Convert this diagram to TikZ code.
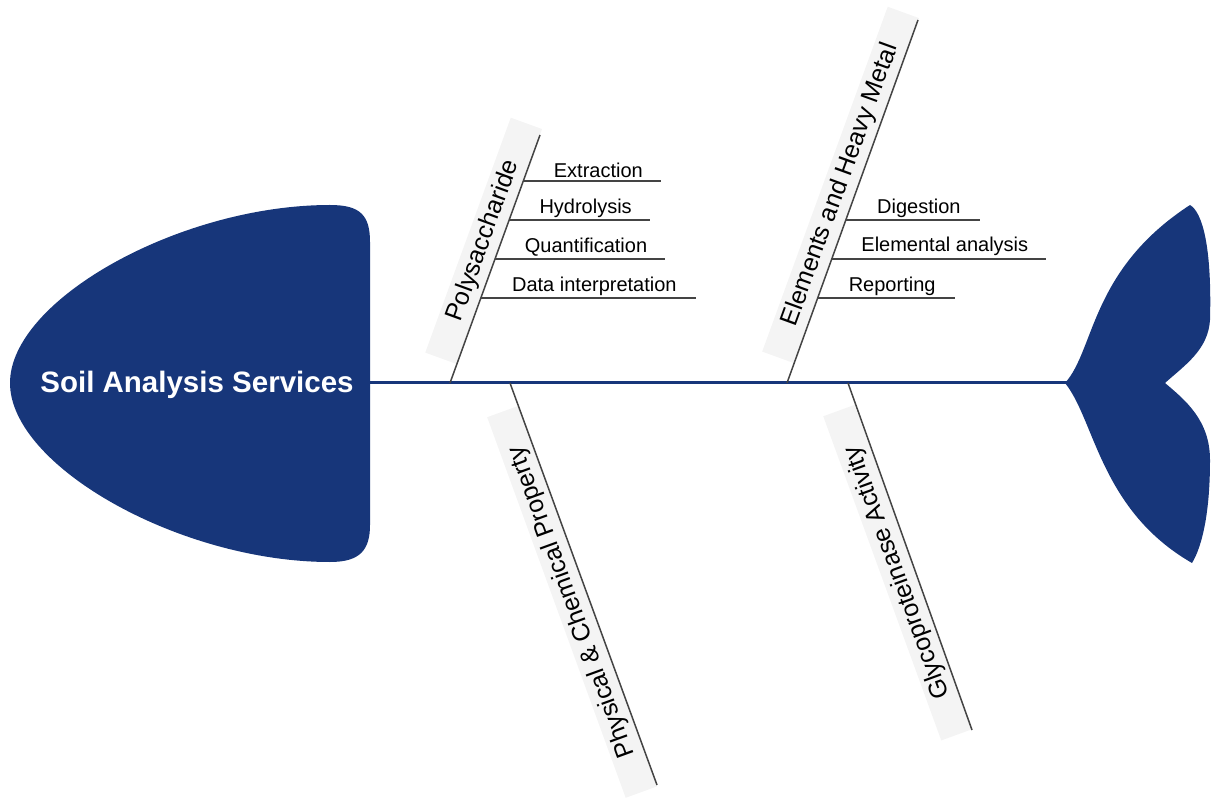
\documentclass[tikz,border=0pt]{standalone}
\usepackage{fontspec}
\setmainfont{Liberation Sans}
\usetikzlibrary{calc,positioning}
\definecolor{fishblue}{HTML}{17367A}
\definecolor{bonegray}{HTML}{444444}
\definecolor{boxgray}{HTML}{F4F4F4}
\tikzset{
  bone/.style={draw=bonegray, line width=1.5pt},
  bonelabel/.style={fill=boxgray, anchor=south, inner sep=5pt, font=\fontsize{25}{30}\selectfont},
  sublabel/.style={above, inner sep=2pt, xshift=6pt, font=\fontsize{20}{24}\selectfont}
}
\begin{document}
\begin{tikzpicture}[x=1pt,y=-1pt]
\useasboundingbox (0,0) rectangle (1221,799);

% Head and tail
\fill[fishblue] (330,205) .. controls (180,205) and (10,300) .. (10,383)
  .. controls (10,466) and (180,562) .. (330,562)
  .. controls (360,562) and (370,550) .. (370,525) -- (370,242)
  .. controls (370,215) and (360,205) .. (330,205) -- cycle;
\fill[fishblue] (1065,383) .. controls (1095,350) and (1090,270) .. (1190,205)
  .. controls (1202,212) and (1212,245) .. (1210,320)
  .. controls (1208,350) and (1185,365) .. (1165,383)
  .. controls (1185,400) and (1210,420) .. (1210,460)
  .. controls (1210,520) and (1200,550) .. (1192,563)
  .. controls (1100,510) and (1095,420) .. (1065,383) -- cycle;

% Spine
\node[font=\bfseries\fontsize{29.5}{34}\selectfont, text=white] (head) at (197,385) {Soil Analysis Services};
\coordinate (spineA) at (370,383);
\coordinate (spineB) at (1068,383);
\draw[fishblue, line width=3pt] (spineA) -- (spineB);

% Bones
\coordinate (ps0) at (450,383);  \coordinate (ps1) at (540,135);
\coordinate (eh0) at (787,383);  \coordinate (eh1) at (918,20);
\coordinate (pc0) at (510,383);  \coordinate (pc1) at (657,785);
\coordinate (gp0) at (848,383);  \coordinate (gp1) at (972,730);

\node[bonelabel, rotate=70, minimum width=250pt] (psl) at ($(ps0)!0.55!(ps1)$) {Polysaccharide};
\node[bonelabel, rotate=70, minimum width=367pt] (ehl) at ($(eh0)!0.53!(eh1)$) {Elements and Heavy Metal};
\node[bonelabel, rotate=110, minimum width=405pt] (pcl) at ($(pc0)!0.53!(pc1)$) {Physical \& Chemical Property};
\node[bonelabel, rotate=110, minimum width=345pt] (gpl) at ($(gp0)!0.53!(gp1)$) {Glycoproteinase Activity};

\draw[bone] (ps0) -- (ps1);
\draw[bone] (eh0) -- (eh1);
\draw[bone] (pc0) -- (pc1);
\draw[bone] (gp0) -- (gp1);

% Sub-branches
\coordinate (ps-a) at ($(ps0)!0.815!(ps1)$);
\coordinate (ps-b) at ($(ps0)!0.657!(ps1)$);
\coordinate (ps-c) at ($(ps0)!0.5!(ps1)$);
\coordinate (ps-d) at ($(ps0)!0.343!(ps1)$);
\draw[bone] (ps-a) -- ++(138,0) node[sublabel, midway] {Extraction};
\draw[bone] (ps-b) -- ++(141,0) node[sublabel, midway] {Hydrolysis};
\draw[bone] (ps-c) -- ++(170,0) node[sublabel, midway] {Quantification};
\draw[bone] (ps-d) -- ++(215,0) node[sublabel, midway] {Data interpretation};

\coordinate (eh-a) at ($(eh0)!0.449!(eh1)$);
\coordinate (eh-b) at ($(eh0)!0.342!(eh1)$);
\coordinate (eh-c) at ($(eh0)!0.234!(eh1)$);
\draw[bone] (eh-a) -- ++(134,0) node[sublabel, midway] {Digestion};
\draw[bone] (eh-b) -- ++(214,0) node[sublabel, midway] {Elemental analysis};
\draw[bone] (eh-c) -- ++(137,0) node[sublabel, midway] {Reporting};

\end{tikzpicture}
\end{document}
